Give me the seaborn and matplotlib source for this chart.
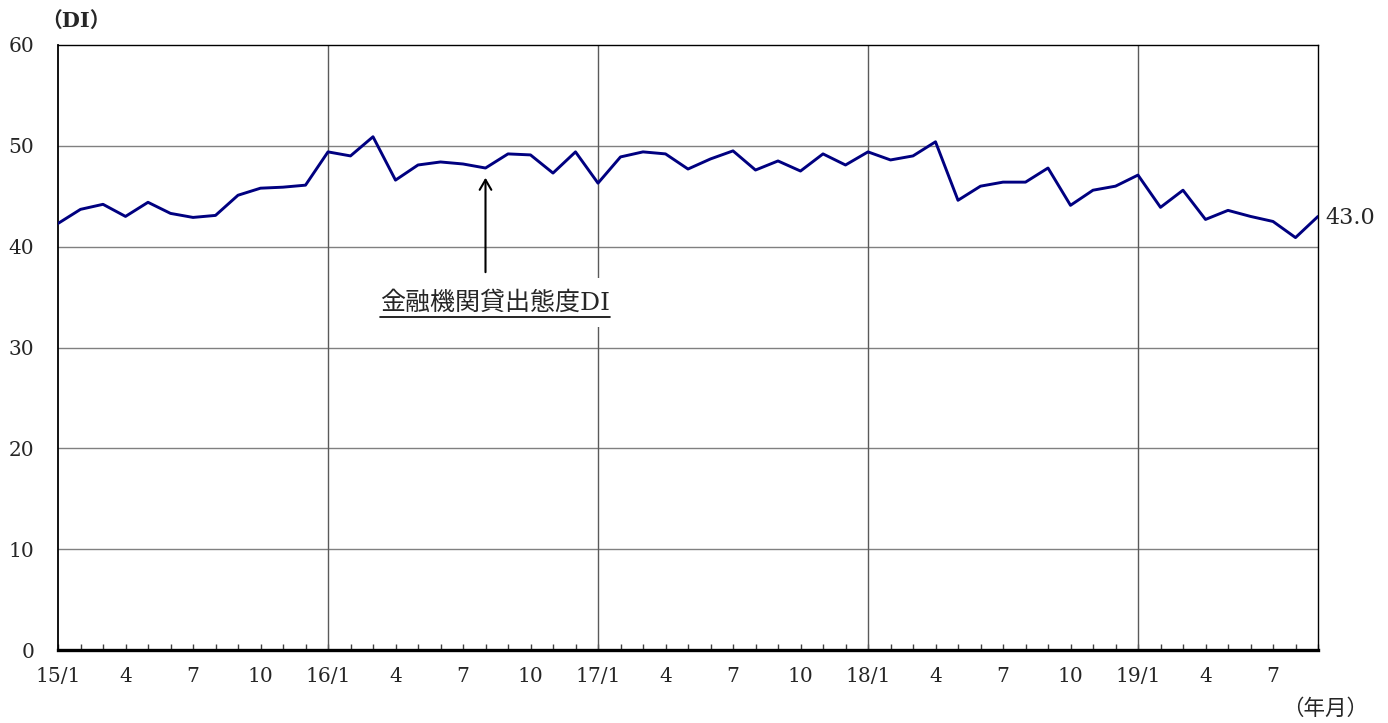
import matplotlib
matplotlib.use("Agg")
import matplotlib.pyplot as plt
from matplotlib.lines import Line2D
from matplotlib.ticker import FixedLocator, MultipleLocator
import pandas as pd
import seaborn as sns

# monthly lending attitude DI, 2015/1 - 2019/9
di_values = [
    42.3, 43.7, 44.2, 43.0, 44.4, 43.3, 42.9, 43.1, 45.1, 45.8, 45.9, 46.1,
    49.4, 49.0, 50.9, 46.6, 48.1, 48.4, 48.2, 47.8, 49.2, 49.1, 47.3, 49.4,
    46.3, 48.9, 49.4, 49.2, 47.7, 48.7, 49.5, 47.6, 48.5, 47.5, 49.2, 48.1,
    49.4, 48.6, 49.0, 50.4, 44.6, 46.0, 46.4, 46.4, 47.8, 44.1, 45.6, 46.0,
    47.1, 43.9, 45.6, 42.7, 43.6, 43.0, 42.5, 40.9, 43.0,
]
years = ["15", "16", "17", "18", "19"]
tick_months = ["1", "4", "7", "10"]
last_label = "43.0"
series_label = "金融機関貸出態度DI"
annot_month = 19  # 2016/8

month_idx = list(range(len(di_values)))
df = pd.DataFrame({"m": month_idx, "di": di_values})

# tick labels every 3 months
tick_pos = list(range(0, len(di_values), 3))
tick_lab = []
for p in tick_pos:
    y, m = divmod(p, 12)
    mon = tick_months[m // 3]
    tick_lab.append(f"{years[y]}/1" if mon == "1" else mon)
year_starts = [p for p in range(12, len(di_values), 12)]

sns.set_theme(style="white")
FONT = ["DejaVu Serif", "Noto Sans CJK JP", "DejaVu Sans"]
plt.rcParams["font.family"] = FONT

fig = plt.figure(figsize=(13.88, 7.23), dpi=100)
ax = fig.add_axes([58 / 1388, 1 - 650 / 723, 1260 / 1388, 605 / 723])

sns.lineplot(data=df, x="m", y="di", ax=ax, color="#000080", linewidth=2.1, zorder=3)

ax.set_xlim(0, len(di_values) - 1)
ax.set_ylim(0, 60)
ax.yaxis.set_major_locator(MultipleLocator(10))
ax.xaxis.set_major_locator(FixedLocator(tick_pos))
ax.xaxis.set_minor_locator(MultipleLocator(1))
ax.set_xticklabels(tick_lab)
ax.set_xlabel("")
ax.set_ylabel("")

for v in range(10, 60, 10):
    ax.axhline(v, color="#808080", linewidth=1.0, zorder=1)
for p in year_starts:
    ax.axvline(p, color="#5a5a5a", linewidth=1.0, zorder=1)

ax.tick_params(axis="x", which="both", direction="in", length=4, width=1,
               color="#404040", bottom=True, pad=12, labelsize=14.5)
ax.tick_params(axis="y", which="both", left=False, pad=11, labelsize=14.5)

for side in ["top", "right", "left"]:
    ax.spines[side].set_color("black")
    ax.spines[side].set_linewidth(1.0)
ax.spines["left"].set_linewidth(1.3)
ax.spines["bottom"].set_color("black")
ax.spines["bottom"].set_linewidth(2.4)

fig.text(76 / 1388, 1 - 21 / 723, "（DI）", ha="center", va="center",
         fontsize=15, fontweight="bold", family=FONT)
fig.text(1325 / 1388, 1 - 709 / 723, "（年月）", ha="center", va="center",
         fontsize=15.5, family=FONT)
ax.annotate(last_label, xy=(month_idx[-1], di_values[-1]), xytext=(5, -1),
            textcoords="offset points", ha="left", va="center",
            fontsize=16, annotation_clip=False)

# vertical arrow pointing at the series, label below it
pt = (annot_month, di_values[annot_month])
ax.annotate("", xy=pt, xytext=(0, -75), textcoords="offset points",
            arrowprops=dict(arrowstyle="->,head_length=0.6,head_width=0.35",
                            color="black", lw=1.5, shrinkA=0, shrinkB=7),
            zorder=4)
lab = ax.annotate(
    series_label, xy=pt, xytext=(7, -97), textcoords="offset points",
    ha="center", va="center", fontsize=18, zorder=4,
    bbox=dict(boxstyle="square,pad=0.5", fc="white", ec="none"))

# underline the series label
fig.canvas.draw()
bb = lab.get_window_extent().transformed(fig.transFigure.inverted())
fig.add_artist(Line2D([bb.x0, bb.x1], [bb.y0 - 0.003, bb.y0 - 0.003],
                      transform=fig.transFigure, color="black", linewidth=1.2))

fig.savefig("out.png", dpi=100)
